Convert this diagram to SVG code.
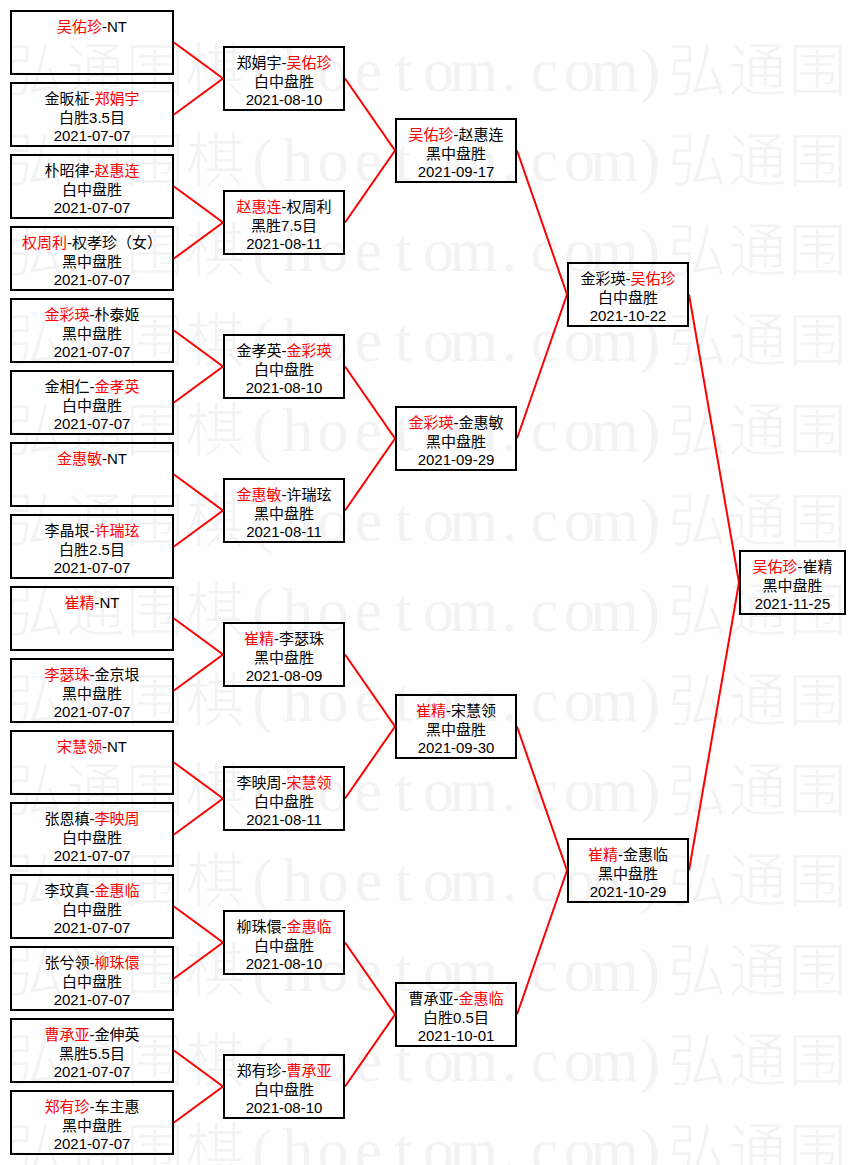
<svg xmlns="http://www.w3.org/2000/svg" xmlns:xlink="http://www.w3.org/1999/xlink" width="856" height="1165" viewBox="0 0 856 1165">
<style>
.wm{fill:#f3f3f3;text-anchor:middle}
.wc{font-family:"Noto Sans CJK SC",sans-serif;font-size:58px;font-weight:300}
.wl{font-family:"Liberation Serif",serif;font-size:62px}
.box{fill:none;stroke:#000;stroke-width:2}
.t{font-family:"Liberation Sans","Noto Sans CJK SC",sans-serif;font-size:15px;fill:#000;text-anchor:middle}
.r{fill:#f00}
.con{fill:none;stroke:#f00;stroke-width:2}
</style>
<defs>
<text id="wm" class="wm" y="91"><tspan class="wc" x="35 95 155 215">弘通围棋</tspan><tspan class="wl" x="262.6 297.8 333 368.2 403.4 438.6 473.8 509 544.2 579.4 614.6 649.8">(hoetom.com)</tspan><tspan class="wc" x="697.4 757.4 817.4">弘通围</tspan></text>
</defs>
<rect width="856" height="1165" fill="#fff"/>
<g id="watermark">
<use xlink:href="#wm"/>
<use xlink:href="#wm" transform="translate(0,90)"/>
<use xlink:href="#wm" transform="translate(0,180)"/>
<use xlink:href="#wm" transform="translate(0,270)"/>
<use xlink:href="#wm" transform="translate(0,360)"/>
<use xlink:href="#wm" transform="translate(0,450)"/>
<use xlink:href="#wm" transform="translate(0,540)"/>
<use xlink:href="#wm" transform="translate(0,630)"/>
<use xlink:href="#wm" transform="translate(0,720)"/>
<use xlink:href="#wm" transform="translate(0,810)"/>
<use xlink:href="#wm" transform="translate(0,900)"/>
<use xlink:href="#wm" transform="translate(0,990)"/>
<use xlink:href="#wm" transform="translate(0,1080)"/>
</g>
<g id="connectors" class="con">
<path d="M174,42.5L223,78.5L174,114.5"/>
<path d="M174,186.5L223,222.5L174,258.5"/>
<path d="M174,330.5L223,366.5L174,402.5"/>
<path d="M174,474.5L223,510.5L174,546.5"/>
<path d="M174,618.5L223,654.5L174,690.5"/>
<path d="M174,762.5L223,798.5L174,834.5"/>
<path d="M174,906.5L223,942.5L174,978.5"/>
<path d="M174,1050.5L223,1086.5L174,1122.5"/>
<path d="M345,78.5L395,150.5L345,222.5"/>
<path d="M345,366.5L395,438.5L345,510.5"/>
<path d="M345,654.5L395,726.5L345,798.5"/>
<path d="M345,942.5L395,1014.5L345,1086.5"/>
<path d="M517,150.5L567,294.5L517,438.5"/>
<path d="M517,726.5L567,870.5L517,1014.5"/>
<path d="M689,294.5L739,582.5L689,870.5"/>
</g>
<g id="r1-01" transform="translate(11,11)"><rect class="box" width="162" height="63"/><text class="t" x="81" y="20.5"><tspan class="r">吴佑珍</tspan>-NT</text></g>
<g id="r1-02" transform="translate(11,83)"><rect class="box" width="162" height="63"/><text class="t" x="81" y="20.5">金昄柾-<tspan class="r">郑娟宇</tspan></text><text class="t" x="81" y="39.5">白胜3.5目</text><text class="t" x="81" y="58">2021-07-07</text></g>
<g id="r1-03" transform="translate(11,155)"><rect class="box" width="162" height="63"/><text class="t" x="81" y="20.5">朴昭律-<tspan class="r">赵惠连</tspan></text><text class="t" x="81" y="39.5">白中盘胜</text><text class="t" x="81" y="58">2021-07-07</text></g>
<g id="r1-04" transform="translate(11,227)"><rect class="box" width="162" height="63"/><text class="t" x="81" y="20.5"><tspan class="r">权周利</tspan>-权孝珍（女）</text><text class="t" x="81" y="39.5">黑中盘胜</text><text class="t" x="81" y="58">2021-07-07</text></g>
<g id="r1-05" transform="translate(11,299)"><rect class="box" width="162" height="63"/><text class="t" x="81" y="20.5"><tspan class="r">金彩瑛</tspan>-朴泰姬</text><text class="t" x="81" y="39.5">黑中盘胜</text><text class="t" x="81" y="58">2021-07-07</text></g>
<g id="r1-06" transform="translate(11,371)"><rect class="box" width="162" height="63"/><text class="t" x="81" y="20.5">金相仁-<tspan class="r">金孝英</tspan></text><text class="t" x="81" y="39.5">白中盘胜</text><text class="t" x="81" y="58">2021-07-07</text></g>
<g id="r1-07" transform="translate(11,443)"><rect class="box" width="162" height="63"/><text class="t" x="81" y="20.5"><tspan class="r">金惠敏</tspan>-NT</text></g>
<g id="r1-08" transform="translate(11,515)"><rect class="box" width="162" height="63"/><text class="t" x="81" y="20.5">李晶垠-<tspan class="r">许瑞玹</tspan></text><text class="t" x="81" y="39.5">白胜2.5目</text><text class="t" x="81" y="58">2021-07-07</text></g>
<g id="r1-09" transform="translate(11,587)"><rect class="box" width="162" height="63"/><text class="t" x="81" y="20.5"><tspan class="r">崔精</tspan>-NT</text></g>
<g id="r1-10" transform="translate(11,659)"><rect class="box" width="162" height="63"/><text class="t" x="81" y="20.5"><tspan class="r">李瑟珠</tspan>-金京垠</text><text class="t" x="81" y="39.5">黑中盘胜</text><text class="t" x="81" y="58">2021-07-07</text></g>
<g id="r1-11" transform="translate(11,731)"><rect class="box" width="162" height="63"/><text class="t" x="81" y="20.5"><tspan class="r">宋慧领</tspan>-NT</text></g>
<g id="r1-12" transform="translate(11,803)"><rect class="box" width="162" height="63"/><text class="t" x="81" y="20.5">张恩稹-<tspan class="r">李映周</tspan></text><text class="t" x="81" y="39.5">白中盘胜</text><text class="t" x="81" y="58">2021-07-07</text></g>
<g id="r1-13" transform="translate(11,875)"><rect class="box" width="162" height="63"/><text class="t" x="81" y="20.5">李玟真-<tspan class="r">金惠临</tspan></text><text class="t" x="81" y="39.5">白中盘胜</text><text class="t" x="81" y="58">2021-07-07</text></g>
<g id="r1-14" transform="translate(11,947)"><rect class="box" width="162" height="63"/><text class="t" x="81" y="20.5">张兮领-<tspan class="r">柳珠儇</tspan></text><text class="t" x="81" y="39.5">白中盘胜</text><text class="t" x="81" y="58">2021-07-07</text></g>
<g id="r1-15" transform="translate(11,1019)"><rect class="box" width="162" height="63"/><text class="t" x="81" y="20.5"><tspan class="r">曹承亚</tspan>-金伸英</text><text class="t" x="81" y="39.5">黑胜5.5目</text><text class="t" x="81" y="58">2021-07-07</text></g>
<g id="r1-16" transform="translate(11,1091)"><rect class="box" width="162" height="63"/><text class="t" x="81" y="20.5"><tspan class="r">郑有珍</tspan>-车主惠</text><text class="t" x="81" y="39.5">黑中盘胜</text><text class="t" x="81" y="58">2021-07-07</text></g>
<g id="r2-1" transform="translate(224,47)"><rect class="box" width="120" height="63"/><text class="t" x="60" y="20.5">郑娟宇-<tspan class="r">吴佑珍</tspan></text><text class="t" x="60" y="39.5">白中盘胜</text><text class="t" x="60" y="58">2021-08-10</text></g>
<g id="r2-2" transform="translate(224,191)"><rect class="box" width="120" height="63"/><text class="t" x="60" y="20.5"><tspan class="r">赵惠连</tspan>-权周利</text><text class="t" x="60" y="39.5">黑胜7.5目</text><text class="t" x="60" y="58">2021-08-11</text></g>
<g id="r2-3" transform="translate(224,335)"><rect class="box" width="120" height="63"/><text class="t" x="60" y="20.5">金孝英-<tspan class="r">金彩瑛</tspan></text><text class="t" x="60" y="39.5">白中盘胜</text><text class="t" x="60" y="58">2021-08-10</text></g>
<g id="r2-4" transform="translate(224,479)"><rect class="box" width="120" height="63"/><text class="t" x="60" y="20.5"><tspan class="r">金惠敏</tspan>-许瑞玹</text><text class="t" x="60" y="39.5">黑中盘胜</text><text class="t" x="60" y="58">2021-08-11</text></g>
<g id="r2-5" transform="translate(224,623)"><rect class="box" width="120" height="63"/><text class="t" x="60" y="20.5"><tspan class="r">崔精</tspan>-李瑟珠</text><text class="t" x="60" y="39.5">黑中盘胜</text><text class="t" x="60" y="58">2021-08-09</text></g>
<g id="r2-6" transform="translate(224,767)"><rect class="box" width="120" height="63"/><text class="t" x="60" y="20.5">李映周-<tspan class="r">宋慧领</tspan></text><text class="t" x="60" y="39.5">白中盘胜</text><text class="t" x="60" y="58">2021-08-11</text></g>
<g id="r2-7" transform="translate(224,911)"><rect class="box" width="120" height="63"/><text class="t" x="60" y="20.5">柳珠儇-<tspan class="r">金惠临</tspan></text><text class="t" x="60" y="39.5">白中盘胜</text><text class="t" x="60" y="58">2021-08-10</text></g>
<g id="r2-8" transform="translate(224,1055)"><rect class="box" width="120" height="63"/><text class="t" x="60" y="20.5">郑有珍-<tspan class="r">曹承亚</tspan></text><text class="t" x="60" y="39.5">白中盘胜</text><text class="t" x="60" y="58">2021-08-10</text></g>
<g id="r3-1" transform="translate(396,119)"><rect class="box" width="120" height="63"/><text class="t" x="60" y="20.5"><tspan class="r">吴佑珍</tspan>-赵惠连</text><text class="t" x="60" y="39.5">黑中盘胜</text><text class="t" x="60" y="58">2021-09-17</text></g>
<g id="r3-2" transform="translate(396,407)"><rect class="box" width="120" height="63"/><text class="t" x="60" y="20.5"><tspan class="r">金彩瑛</tspan>-金惠敏</text><text class="t" x="60" y="39.5">黑中盘胜</text><text class="t" x="60" y="58">2021-09-29</text></g>
<g id="r3-3" transform="translate(396,695)"><rect class="box" width="120" height="63"/><text class="t" x="60" y="20.5"><tspan class="r">崔精</tspan>-宋慧领</text><text class="t" x="60" y="39.5">黑中盘胜</text><text class="t" x="60" y="58">2021-09-30</text></g>
<g id="r3-4" transform="translate(396,983)"><rect class="box" width="120" height="63"/><text class="t" x="60" y="20.5">曹承亚-<tspan class="r">金惠临</tspan></text><text class="t" x="60" y="39.5">白胜0.5目</text><text class="t" x="60" y="58">2021-10-01</text></g>
<g id="r4-1" transform="translate(568,263)"><rect class="box" width="120" height="63"/><text class="t" x="60" y="20.5">金彩瑛-<tspan class="r">吴佑珍</tspan></text><text class="t" x="60" y="39.5">白中盘胜</text><text class="t" x="60" y="58">2021-10-22</text></g>
<g id="r4-2" transform="translate(568,839)"><rect class="box" width="120" height="63"/><text class="t" x="60" y="20.5"><tspan class="r">崔精</tspan>-金惠临</text><text class="t" x="60" y="39.5">黑中盘胜</text><text class="t" x="60" y="58">2021-10-29</text></g>
<g id="final" transform="translate(740,551)"><rect class="box" width="105" height="63"/><text class="t" x="52.5" y="20.5"><tspan class="r">吴佑珍</tspan>-崔精</text><text class="t" x="52.5" y="39.5">黑中盘胜</text><text class="t" x="52.5" y="58">2021-11-25</text></g>
</svg>
